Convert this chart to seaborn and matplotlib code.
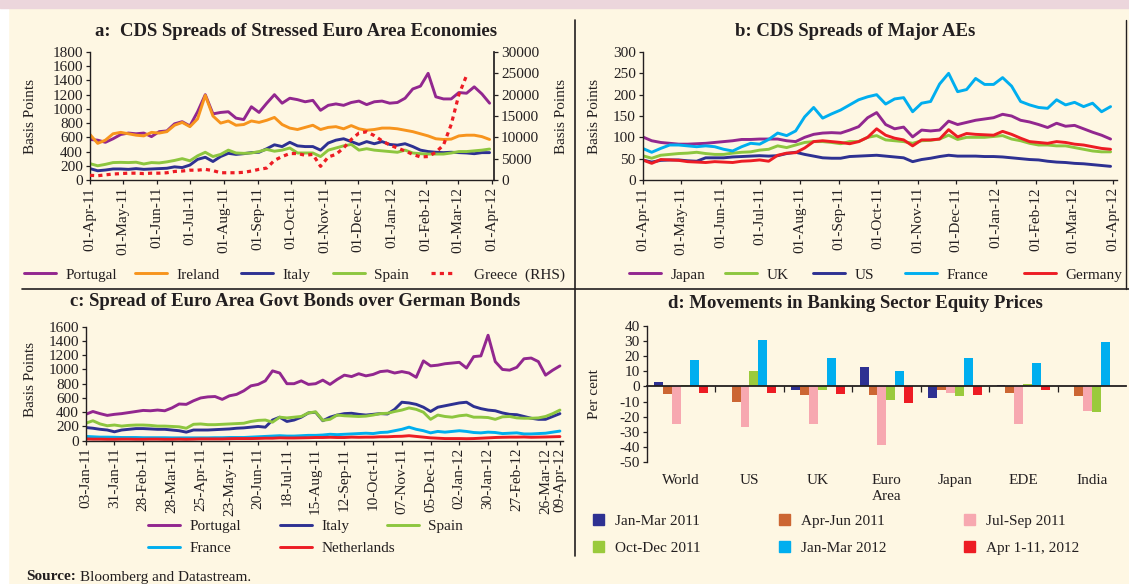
"""
Four-panel chart: CDS spreads, bond spreads and banking sector equity prices.
"""
import matplotlib
matplotlib.use("Agg")
import matplotlib.pyplot as plt
import matplotlib.dates as mdates
import numpy as np
import pandas as pd
import seaborn as sns
from matplotlib.lines import Line2D
from matplotlib.patches import Rectangle, Patch
from matplotlib.legend import Legend

# ---- data (weekly readings) ----
WEEKS_AB = pd.date_range("2011-04-01", periods=53, freq="7D")
WEEKS_C = pd.date_range("2011-01-03", periods=67, freq="7D")

# panel a: CDS spreads of stressed euro area economies (bps)
PORTUGAL_A = [570, 560, 530, 580, 640, 660, 650, 660, 610, 680,
              690, 790, 820, 760, 960, 1200, 930, 950, 960, 870,
              850, 1030, 950, 1080, 1200, 1080, 1150, 1130, 1100, 1120,
              980, 1050, 1070, 1050, 1090, 1110, 1060, 1100, 1110, 1080,
              1090, 1150, 1280, 1320, 1500, 1170, 1140, 1140, 1230, 1220,
              1310, 1210, 1080]
IRELAND_A = [640, 515, 560, 650, 670, 650, 630, 620, 670, 660,
             680, 770, 810, 750, 860, 1190, 900, 800, 830, 770,
             780, 830, 810, 840, 880, 780, 730, 710, 740, 770,
             710, 740, 750, 720, 765, 720, 700, 710, 730, 730,
             720, 700, 680, 650, 620, 580, 570, 575, 620, 630,
             630, 610, 570]
ITALY_A = [160, 130, 140, 155, 155, 150, 160, 150, 155, 160,
           165, 185, 175, 210, 290, 320, 260, 330, 375, 360,
           370, 385, 390, 440, 495, 470, 530, 480, 470, 470,
           420, 520, 560, 580, 540, 500, 540, 510, 540, 500,
           490, 510, 470, 420, 400, 390, 385, 390, 385, 380,
           370, 385, 385]
SPAIN_A = [230, 200, 220, 245, 248, 245, 250, 225, 245, 240,
           255, 275, 300, 270, 340, 390, 330, 360, 420, 380,
           375, 380, 400, 430, 405, 420, 450, 380, 380, 380,
           330, 420, 450, 480, 500, 420, 440, 420, 410, 400,
           390, 420, 380, 370, 365, 365, 365, 380, 400, 400,
           410, 420, 435]
GREECE_A = [1100, 1000, 1200, 1400, 1500, 1600, 1600, 1500, 1600, 1600,
            1700, 2000, 2100, 2300, 2300, 2500, 2200, 1700, 1700, 1700,
            1800, 2100, 2500, 2800, 4600, 5500, 6200, 6200, 5800, 6000,
            3200, 5400, 6000, 7500, 9500, 11000, 11300, 10400, 9200, 8200,
            7500, 6800, 6000, 5400, 5500, 6500, 8200, 13000, 20000, 24500]

# panel b: CDS spreads of major AEs (bps)
JAPAN_B = [101, 92, 88, 86, 84, 84, 85, 86, 88, 90,
           92, 95, 95, 96, 96, 96, 92, 90, 100, 107,
           110, 111, 110, 117, 125, 146, 158, 130, 120, 124,
           101, 117, 115, 117, 138, 130, 135, 140, 143, 146,
           154, 150, 140, 136, 130, 123, 133, 126, 128, 120,
           112, 105, 96]
UK_B = [57, 51, 58, 60, 62, 63, 65, 62, 60, 60,
        63, 65, 66, 70, 72, 80, 76, 82, 88, 90,
        90, 88, 85, 90, 90, 100, 104, 94, 92, 90,
        86, 92, 93, 96, 105, 95, 100, 100, 100, 102,
        104, 96, 92, 86, 82, 82, 80, 80, 76, 72,
        68, 66, 66]
US_B = [47, 42, 46, 47, 47, 45, 44, 52, 52, 52,
        54, 55, 56, 57, 56, 57, 62, 65, 60, 56,
        52, 51, 51, 55, 56, 57, 58, 56, 54, 52,
        43, 48, 51, 55, 58, 56, 56, 56, 55, 55,
        54, 52, 50, 48, 47, 44, 42, 41, 39, 38,
        36, 34, 32]
FRANCE_B = [74, 65, 74, 82, 82, 80, 78, 80, 78, 72,
            68, 78, 86, 84, 95, 110, 104, 115, 148, 170,
            145, 155, 164, 176, 188, 195, 200, 178, 190, 193,
            160, 180, 184, 225, 250, 207, 212, 238, 224, 224,
            240, 220, 184, 176, 170, 168, 188, 176, 182, 172,
            180, 160, 172]
GERMANY_B = [47, 39, 48, 47, 46, 43, 42, 41, 43, 42,
             41, 44, 45, 47, 44, 58, 63, 64, 75, 90,
             92, 90, 88, 85, 90, 100, 120, 105, 98, 94,
             80, 94, 94, 96, 118, 101, 109, 107, 106, 105,
             114, 107, 98, 90, 88, 86, 90, 88, 84, 82,
             78, 74, 72]

# panel c: spread over German bonds (bps)
PORTUGAL_C = [370, 410, 380, 355, 370, 380, 395, 410, 425, 420,
              430, 420, 460, 515, 510, 560, 600, 615, 620, 580,
              630, 650, 700, 770, 790, 840, 980, 950, 800, 800,
              840, 790, 800, 850, 790, 860, 920, 900, 940, 910,
              930, 970, 980, 950, 970, 950, 890, 1120, 1050, 1060,
              1080, 1090, 1100, 1020, 1180, 1190, 1480, 1110, 1000, 990,
              1030, 1150, 1160, 1110, 920, 990, 1050]
ITALY_C = [185, 175, 160, 150, 125, 150, 160, 170, 170, 165,
           160, 160, 150, 140, 120, 150, 150, 150, 155, 160,
           165, 175, 180, 190, 200, 190, 290, 330, 270, 290,
           330, 390, 400, 280, 330, 360, 380, 385, 370, 360,
           370, 380, 375, 440, 540, 530, 510, 470, 410, 470,
           490, 510, 530, 540, 480, 450, 430, 420, 390, 370,
           365, 340, 315, 300, 300, 340, 380]
SPAIN_C = [245, 280, 235, 210, 220, 205, 215, 220, 220, 215,
           205, 205, 200, 195, 175, 230, 235, 225, 225, 230,
           235, 240, 245, 270, 285, 290, 260, 330, 320, 330,
           340, 390, 405, 285, 300, 360, 350, 345, 340, 345,
           360, 380, 385, 410, 430, 460, 440, 400, 300, 360,
           340, 330, 350, 360, 330, 330, 325, 300, 335, 340,
           320, 315, 315, 320, 340, 380, 430]
FRANCE_C = [60, 55, 50, 50, 48, 45, 45, 45, 42, 42,
            42, 42, 40, 40, 40, 40, 40, 40, 42, 42,
            45, 45, 45, 50, 55, 60, 65, 70, 65, 65,
            70, 75, 75, 80, 90, 85, 90, 95, 100, 105,
            100, 115, 120, 140, 160, 190, 160, 140, 110, 130,
            120, 130, 140, 130, 115, 110, 120, 115, 100, 105,
            110, 95, 95, 100, 105, 120, 135]
NETHERLANDS_C = [25, 22, 22, 20, 20, 22, 22, 20, 20, 22,
                 22, 20, 20, 22, 20, 22, 25, 25, 25, 25,
                 28, 30, 30, 30, 32, 35, 35, 40, 38, 38,
                 40, 42, 45, 45, 48, 45, 45, 50, 48, 50,
                 50, 55, 55, 60, 62, 70, 60, 50, 40, 35,
                 30, 30, 30, 28, 30, 35, 40, 45, 48, 50,
                 50, 52, 48, 50, 52, 55, 58]
C_TICKS = ["2011-01-03", "2011-01-31", "2011-02-28", "2011-03-28", "2011-04-25",
           "2011-05-23", "2011-06-20", "2011-07-18", "2011-08-15", "2011-09-12",
           "2011-10-10", "2011-11-07", "2011-12-05", "2012-01-02", "2012-01-30",
           "2012-02-27", "2012-03-26", "2012-04-09"]

# panel d: banking sector equity prices (per cent)
REGIONS = ["World", "US", "UK", "Euro\nArea", "Japan", "EDE", "India"]
PERIODS = ["Jan-Mar 2011", "Apr-Jun 2011", "Jul-Sep 2011",
           "Oct-Dec 2011", "Jan-Mar 2012", "Apr 1-11, 2012"]
JAN_MAR_2011 = [3, 0.5, -2.5, 12.8, -7.8, 0.8, 0]
APR_JUN_2011 = [-5, -10, -5.5, -5.5, -2.2, -4.3, -6.5]
JUL_SEP_2011 = [-25, -27, -25, -38.5, -4.3, -24.7, -16.3]
OCT_DEC_2011 = [1, 10, -2.2, -8.8, -6.3, 1.3, -17]
JAN_MAR_2012 = [17.2, 30.8, 18.6, 10.3, 18.7, 15.7, 29.5]
APR_2012 = [-4, -4, -5, -11, -5.5, -2, 0.5]

# ---- style ----
W, H = 1129, 584
CREAM = "#fef7e3"
PINK = "#ecd6dc"
DARK = "#231f20"
PURPLE, ORANGE, NAVY = "#92278f", "#f7941d", "#2e3192"
LIME, RED, CYAN = "#8dc63f", "#ed1c24", "#00aeef"
PERIOD_COLORS = [NAVY, "#cc6633", "#f7a8b0", "#9aca3c", CYAN, RED]
LW = 2.1

sns.set_theme(style="ticks")
plt.rcParams["font.family"] = ["Liberation Serif", "DejaVu Serif"]
plt.rcParams["axes.unicode_minus"] = False

fig = plt.figure(figsize=(W / 100, H / 100), dpi=100, facecolor=CREAM)
fig.add_artist(Rectangle((0, 0), 8 / W, 1, transform=fig.transFigure,
                         color="white", zorder=0))
fig.add_artist(Rectangle((0, 1 - 8 / H), 1, 8 / H, transform=fig.transFigure,
                         color=PINK, zorder=0))
fig.add_artist(Line2D([575 / W, 575 / W], [1 - 20 / H, 1 - 556 / H], color=DARK, lw=1.2))
fig.add_artist(Line2D([1126 / W, 1126 / W], [1 - 20 / H, 1 - 289 / H], color=DARK, lw=1.0))
fig.add_artist(Line2D([22 / W, 1], [1 - 289 / H, 1 - 289 / H], color=DARK, lw=1.2))


def add_ax(x0, y0, x1, y1):
    ax = fig.add_axes([x0 / W, 1 - y1 / H, (x1 - x0) / W, (y1 - y0) / H])
    ax.set_facecolor("none")
    for s in ax.spines.values():
        s.set_color(DARK)
        s.set_linewidth(1.0)
    ax.spines["top"].set_visible(False)
    ax.spines["right"].set_visible(False)
    ax.tick_params(direction="out", length=3, width=0.9, color=DARK,
                   labelsize=11, labelcolor=DARK, pad=2)
    return ax


def legend_entry(ax, handle, label, x, y, **kw):
    opts = dict(loc="center left", bbox_to_anchor=(x / W, 1 - y / H),
                bbox_transform=fig.transFigure, frameon=False, borderpad=0,
                borderaxespad=0, handlelength=2.1, handletextpad=0.6,
                fontsize=11, labelcolor=DARK)
    opts.update(kw)
    ax.add_artist(Legend(ax, [handle], [label], **opts))


def title(text, x, y):
    fig.text(x / W, 1 - y / H, text, ha="center", va="center",
             fontsize=13.5, fontweight="bold", color=DARK)


def date_ticks(ax, ticks=None):
    if ticks is None:
        ax.xaxis.set_major_locator(mdates.MonthLocator())
    else:
        ax.set_xticks(pd.to_datetime(ticks))
    ax.xaxis.set_major_formatter(mdates.DateFormatter("%d-%b-%y"))
    ax.tick_params(axis="x", labelrotation=90)
    ax.set_xlabel("")


# ---- panel a ----
ax = add_ax(90, 52, 494, 180)
series_a = [("Portugal", PORTUGAL_A, PURPLE), ("Ireland", IRELAND_A, ORANGE),
            ("Italy", ITALY_A, NAVY), ("Spain", SPAIN_A, LIME)]
for name, vals, col in series_a:
    sns.lineplot(x=WEEKS_AB, y=vals, ax=ax, color=col, lw=LW, legend=False)
ax2 = ax.twinx()
ax2.set_facecolor("none")
sns.lineplot(x=WEEKS_AB[:len(GREECE_A)], y=GREECE_A, ax=ax2, color=RED,
             lw=2.3, linestyle=(0, (1.3, 1.3)), legend=False)
for s in ["top", "left", "bottom"]:
    ax2.spines[s].set_visible(False)
ax2.spines["right"].set_color(DARK)
ax2.tick_params(direction="out", length=3, width=0.9, color=DARK,
                labelsize=11, labelcolor=DARK, pad=2)
ax.set_xlim(pd.Timestamp("2011-04-01"), pd.Timestamp("2012-04-03"))
ax.set_ylim(0, 1800)
ax.set_yticks(range(0, 1801, 200))
ax2.set_ylim(0, 30000)
ax2.set_yticks(range(0, 30001, 5000))
date_ticks(ax)
ax.set_ylabel("Basis Points", fontsize=11, color=DARK)
ax.yaxis.set_label_coords(-0.131, 0.5)
ax2.set_ylabel("Basis Points", fontsize=11, color=DARK)
ax2.yaxis.set_label_coords(1.151, 0.5)
title("a:  CDS Spreads of Stressed Euro Area Economies", 296, 31)
for (name, _, col), x in zip(series_a, [24, 135, 241, 333]):
    legend_entry(ax, Line2D([], [], color=col, lw=LW), name, x, 275)
legend_entry(ax, Line2D([], [], color=RED, lw=2.3, linestyle=(0, (1.3, 1.3))),
             "Greece  (RHS)", 431, 275, handlelength=1.6, handletextpad=1.2)

# ---- panel b ----
ax = add_ax(642.7, 52, 1117, 180)
series_b = [("Japan", JAPAN_B, PURPLE), ("UK", UK_B, LIME), ("US", US_B, NAVY),
            ("France", FRANCE_B, CYAN), ("Germany", GERMANY_B, RED)]
for name, vals, col in series_b:
    sns.lineplot(x=WEEKS_AB, y=vals, ax=ax, color=col, lw=LW, legend=False)
ax.set_xlim(pd.Timestamp("2011-04-01"), pd.Timestamp("2012-04-04"))
ax.set_ylim(0, 300)
ax.set_yticks(range(0, 301, 50))
date_ticks(ax)
ax.set_ylabel("Basis Points", fontsize=11, color=DARK)
ax.yaxis.set_label_coords(-0.088, 0.5)
title("b: CDS Spreads of Major AEs", 855, 31)
for (name, _, col), x in zip(series_b, [629, 725, 813, 905, 1024]):
    legend_entry(ax, Line2D([], [], color=col, lw=LW), name, x, 275)

# ---- panel c ----
ax = add_ax(85.7, 326.7, 563, 440.7)
series_c = [("Portugal", PORTUGAL_C, PURPLE), ("Italy", ITALY_C, NAVY),
            ("Spain", SPAIN_C, LIME), ("France", FRANCE_C, CYAN),
            ("Netherlands", NETHERLANDS_C, RED)]
for name, vals, col in series_c:
    sns.lineplot(x=WEEKS_C, y=vals, ax=ax, color=col, lw=LW, legend=False)
ax.set_xlim(pd.Timestamp("2011-01-03"), pd.Timestamp("2012-04-12"))
ax.set_ylim(0, 1600)
ax.set_yticks(range(0, 1601, 200))
date_ticks(ax, C_TICKS)
ax.set_ylabel("Basis Points", fontsize=11, color=DARK)
ax.yaxis.set_label_coords(-0.102, 0.54)
title("c: Spread of Euro Area Govt Bonds over German Bonds", 295, 302)
legend_pos = [(148, 526), (280, 526), (387, 526), (148, 548), (280, 548)]
for (name, _, col), (x, y) in zip(series_c, legend_pos):
    legend_entry(ax, Line2D([], [], color=col, lw=LW), name, x, y)

# ---- panel d ----
ax = add_ax(646.7, 325.8, 1126, 462.3)
bank = pd.DataFrame({"region": REGIONS,
                     PERIODS[0]: JAN_MAR_2011, PERIODS[1]: APR_JUN_2011,
                     PERIODS[2]: JUL_SEP_2011, PERIODS[3]: OCT_DEC_2011,
                     PERIODS[4]: JAN_MAR_2012, PERIODS[5]: APR_2012})
bank = bank.melt(id_vars="region", var_name="period", value_name="change")
sns.barplot(data=bank, x="region", y="change", hue="period", hue_order=PERIODS,
            order=REGIONS, palette=PERIOD_COLORS, saturation=1, width=0.78,
            errorbar=None, edgecolor="none", linewidth=0, ax=ax, legend=False)
ax.spines["bottom"].set_position(("data", 0))
ax.spines["bottom"].set_linewidth(1.3)
ax.set_xlim(-0.5, len(REGIONS) - 0.5)
ax.set_xticks(np.arange(0.5, len(REGIONS) - 1, 1))
ax.set_xticklabels([])
ax.tick_params(axis="x", length=4)
ax.set_ylim(-50, 40)
ax.set_yticks(range(-50, 41, 10))
ax.set_xlabel("")
ax.set_ylabel("Per cent", fontsize=11, color=DARK)
ax.yaxis.set_label_coords(-0.095, 0.5)
for i, r in enumerate(REGIONS):
    ax.text(i, -0.085, r, transform=ax.get_xaxis_transform(), ha="center",
            va="top", fontsize=11, color=DARK, linespacing=1.35)
title("d: Movements in Banking Sector Equity Prices", 855, 303)
legend_pos = [(593, 521), (779, 521), (964, 521), (593, 548), (779, 548), (964, 548)]
for p, col, (x, y) in zip(PERIODS, PERIOD_COLORS, legend_pos):
    legend_entry(ax, Patch(color=col), p, x, y, handlelength=0.72,
                 handleheight=0.72, handletextpad=0.75)

# ---- source ----
src = fig.text(26 / W, 1 - 577 / H, "Source:", fontsize=11, fontweight="bold",
               color=DARK, va="center")
fig.canvas.draw()
bb = src.get_window_extent()
fig.text(bb.x1 / W + 4 / W, 1 - 577 / H, "Bloomberg and Datastream.",
         fontsize=11, color=DARK, va="center")

fig.savefig("out.png", dpi=100, facecolor=CREAM)
plt.close(fig)
